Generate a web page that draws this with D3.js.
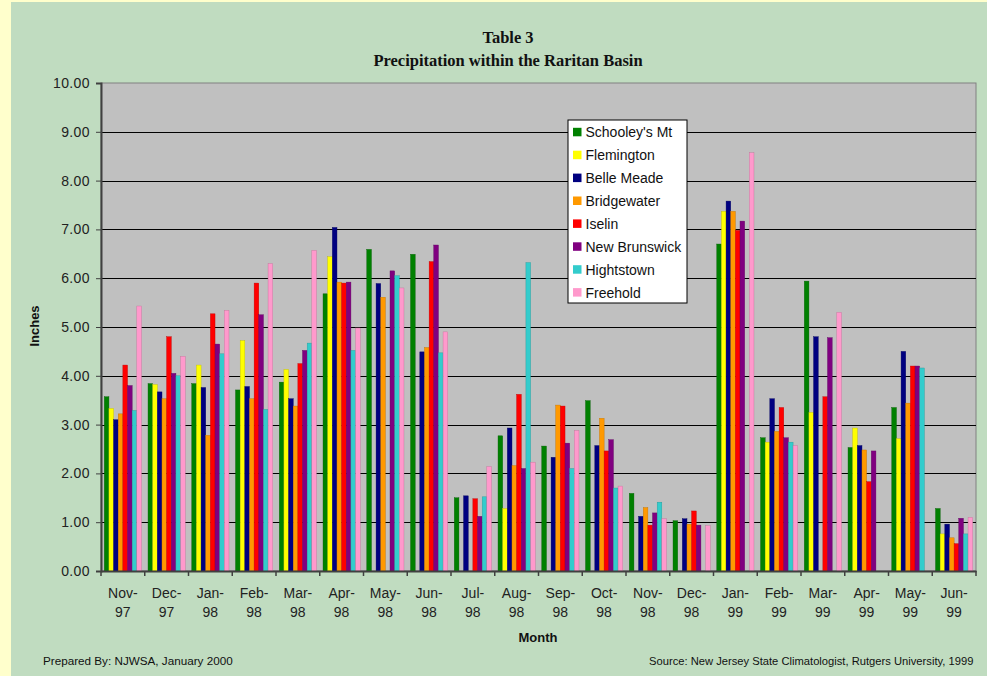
<!DOCTYPE html>
<html>
<head>
<meta charset="utf-8">
<script src="https://cdn.jsdelivr.net/npm/d3@7"></script>
<style>
body { margin: 0; background: #ffffcc; }
svg { display: block; }
</style>
</head>
<body>
<script>
// months on the x axis
const months = ["Nov-97", "Dec-97", "Jan-98", "Feb-98", "Mar-98", "Apr-98", "May-98", "Jun-98",
    "Jul-98", "Aug-98", "Sep-98", "Oct-98", "Nov-98", "Dec-98", "Jan-99", "Feb-99",
    "Mar-99", "Apr-99", "May-99", "Jun-99"];

// inches per station, null where no bar was drawn
const schooleysMt = [3.57, 3.84, 3.84, 3.71, 3.87, 5.68, 6.59, 6.49, 1.50, 2.77, 2.56, 3.49, 1.59, 1.03, 6.70, 2.73, 5.94, 2.53, 3.35, 1.28];
const flemington = [3.33, 3.82, 4.22, 4.72, 4.13, 6.44, null, null, null, 1.28, null, null, null, null, 7.37, 2.64, 3.25, 2.93, 2.71, 0.76];
const belleMeade = [3.10, 3.67, 3.76, 3.78, 3.53, 7.04, 5.89, 4.49, 1.54, 2.93, 2.33, 2.57, 1.12, 1.07, 7.58, 3.53, 4.80, 2.57, 4.50, 0.96];
const bridgewater = [3.22, 3.53, 2.78, 3.53, 3.38, 5.92, 5.61, 4.58, null, 2.16, 3.40, 3.13, 1.30, 0.96, 7.37, 2.86, null, 2.48, 3.44, 0.68];
const iselin = [4.22, 4.80, 5.27, 5.90, 4.25, 5.90, null, 6.34, 1.48, 3.62, 3.38, 2.46, 0.94, 1.23, 6.98, 3.35, 3.57, 1.83, 4.20, 0.56];
const newBrunswick = [3.80, 4.05, 4.65, 5.25, 4.52, 5.92, 6.15, 6.68, 1.12, 2.10, 2.62, 2.69, 1.19, 0.94, 7.17, 2.73, 4.78, 2.46, 4.20, 1.08];
const hightstown = [3.29, 4.00, 4.45, 3.31, 4.67, 4.52, 6.05, 4.47, 1.52, 6.32, 2.10, 1.70, 1.41, null, null, 2.64, null, null, 4.16, 0.76];
const freehold = [5.43, 4.40, 5.34, 6.30, 6.57, 4.98, 5.80, 4.90, 2.14, 2.23, 2.88, 1.74, 1.07, 0.93, 8.57, 2.57, 5.30, null, null, 1.10];

const stationNames = ["Schooley's Mt", "Flemington", "Belle Meade", "Bridgewater", "Iselin", "New Brunswick", "Hightstown", "Freehold"];
const stationColors = ["#008000", "#ffff00", "#000080", "#ff9900", "#ff0000", "#800080", "#33cccc", "#ff99cc"];
const yTicks = [0, 1, 2, 3, 4, 5, 6, 7, 8, 9, 10];

const series = [schooleysMt, flemington, belleMeade, bridgewater, iselin, newBrunswick, hightstown, freehold];

const width = 987, height = 676;
const plotLeft = 101, plotRight = 976, plotTop = 83, plotBottom = 571;

const svg = d3.select('body').append('svg')
    .attr('width', width)
    .attr('height', height);

// pale yellow page edge, then the green chart area
svg.append('rect').attr('width', width).attr('height', height).attr('fill', '#ffffcc');
svg.append('rect')
    .attr('x', 11).attr('y', 2)
    .attr('width', width - 11).attr('height', height - 2)
    .attr('fill', '#c0dcc0');

// titles
svg.append('text')
    .attr('x', 508).attr('y', 42.5)
    .attr('text-anchor', 'middle')
    .style('font', 'bold 16.5px "Liberation Serif", "Times New Roman", serif')
    .attr('fill', '#111')
    .text('Table 3');
svg.append('text')
    .attr('x', 508).attr('y', 66)
    .attr('text-anchor', 'middle')
    .style('font', 'bold 16.5px "Liberation Serif", "Times New Roman", serif')
    .attr('fill', '#111')
    .text('Precipitation within the Raritan Basin');

const x0 = d3.scaleBand()
    .domain(months)
    .range([plotLeft, plotRight])
    .paddingInner(0.15)
    .paddingOuter(0.075);

const x1 = d3.scaleBand()
    .domain(d3.range(series.length))
    .range([0, x0.bandwidth()]);

const y = d3.scaleLinear()
    .domain([0, 10])
    .range([plotBottom, plotTop]);

// plot area
svg.append('rect')
    .attr('x', plotLeft).attr('y', plotTop)
    .attr('width', plotRight - plotLeft).attr('height', plotBottom - plotTop)
    .attr('fill', '#c0c0c0')
    .attr('stroke', '#808080')
    .attr('stroke-width', 1);

svg.append('g')
    .selectAll('line')
    .data(yTicks.filter(d => d > 0 && d < 10))
    .join('line')
    .attr('x1', plotLeft).attr('x2', plotRight)
    .attr('y1', d => Math.round(y(d)) + 0.5)
    .attr('y2', d => Math.round(y(d)) + 0.5)
    .attr('stroke', '#000')
    .attr('stroke-width', 1);

// bars
const groups = svg.append('g')
    .selectAll('g')
    .data(months)
    .join('g')
    .attr('transform', d => 'translate(' + x0(d) + ',0)');

groups.selectAll('rect')
    .data((m, i) => series.map((s, k) => ({ k: k, v: s[i] })).filter(d => d.v != null))
    .join('rect')
    .attr('x', d => x1(d.k))
    .attr('y', d => y(d.v))
    .attr('width', x1.bandwidth())
    .attr('height', d => y(0) - y(d.v))
    .attr('fill', d => stationColors[d.k])
    .attr('stroke', d => d3.color(stationColors[d.k]).darker(0.8))
    .attr('stroke-width', 0.4);

// y axis
const yAxis = d3.axisLeft(y)
    .tickValues(yTicks)
    .tickFormat(d3.format('.2f'))
    .tickSize(5)
    .tickPadding(6);

const yG = svg.append('g')
    .attr('transform', 'translate(' + plotLeft + ',0)')
    .call(yAxis);
yG.select('.domain').attr('stroke', '#404040').attr('stroke-width', 2);
yG.selectAll('.tick line').attr('stroke', '#404040');
yG.selectAll('.tick text')
    .attr('fill', '#222')
    .style('font', '14px "Liberation Sans", Arial, sans-serif')
    .style('letter-spacing', '0.4px');

// x axis baseline and ticks at category boundaries
const xAxis = d3.axisBottom(x0)
    .tickSize(0)
    .tickFormat('');
const xG = svg.append('g')
    .attr('transform', 'translate(0,' + plotBottom + ')')
    .call(xAxis);
xG.select('.domain').attr('stroke', '#404040').attr('stroke-width', 2);

const bounds = d3.range(months.length + 1).map(i => x0.range()[0] + i * x0.step());
svg.append('g')
    .selectAll('line')
    .data(bounds)
    .join('line')
    .attr('x1', d => d).attr('x2', d => d)
    .attr('y1', plotBottom).attr('y2', plotBottom + 5)
    .attr('stroke', '#404040')
    .attr('stroke-width', 1.5);

const labels = svg.append('g')
    .selectAll('text')
    .data(months)
    .join('text')
    .attr('text-anchor', 'middle')
    .attr('fill', '#222')
    .style('font', '14px "Liberation Sans", Arial, sans-serif');
labels.append('tspan')
    .attr('x', d => x0(d) + x0.bandwidth() / 2)
    .attr('y', 598)
    .text(d => d.split('-')[0] + '-');
labels.append('tspan')
    .attr('x', d => x0(d) + x0.bandwidth() / 2)
    .attr('y', 617)
    .text(d => d.split('-')[1]);

// axis titles
svg.append('text')
    .attr('x', 538).attr('y', 642)
    .attr('text-anchor', 'middle')
    .attr('fill', '#111')
    .style('font', 'bold 13px "Liberation Sans", Arial, sans-serif')
    .text('Month');
svg.append('text')
    .attr('transform', 'translate(39,326) rotate(-90)')
    .attr('text-anchor', 'middle')
    .attr('fill', '#111')
    .style('font', 'bold 13px "Liberation Sans", Arial, sans-serif')
    .text('Inches');

// legend
const legend = svg.append('g').attr('transform', 'translate(568,120)');
legend.append('rect')
    .attr('width', 119).attr('height', 183)
    .attr('fill', '#fff')
    .attr('stroke', '#000')
    .attr('stroke-width', 1);
const items = legend.selectAll('g.item')
    .data(stationNames)
    .join('g')
    .attr('class', 'item')
    .attr('transform', (d, i) => 'translate(0,' + (12.3 + i * 22.9) + ')');
items.append('rect')
    .attr('x', 5).attr('y', -4.5)
    .attr('width', 8.5).attr('height', 8.5)
    .attr('fill', (d, i) => stationColors[i]);
items.append('text')
    .attr('x', 17.5).attr('y', 5)
    .attr('fill', '#111')
    .style('font', '14px "Liberation Sans", Arial, sans-serif')
    .text(d => d);

// footer notes
svg.append('text')
    .attr('x', 43).attr('y', 665)
    .attr('fill', '#111')
    .style('font', '11.7px "Liberation Sans", Arial, sans-serif')
    .text('Prepared By: NJWSA, January 2000');
svg.append('text')
    .attr('x', 649).attr('y', 665)
    .attr('fill', '#111')
    .style('font', '11.2px "Liberation Sans", Arial, sans-serif')
    .text('Source: New Jersey State Climatologist, Rutgers University, 1999');
</script>
</body>
</html>
